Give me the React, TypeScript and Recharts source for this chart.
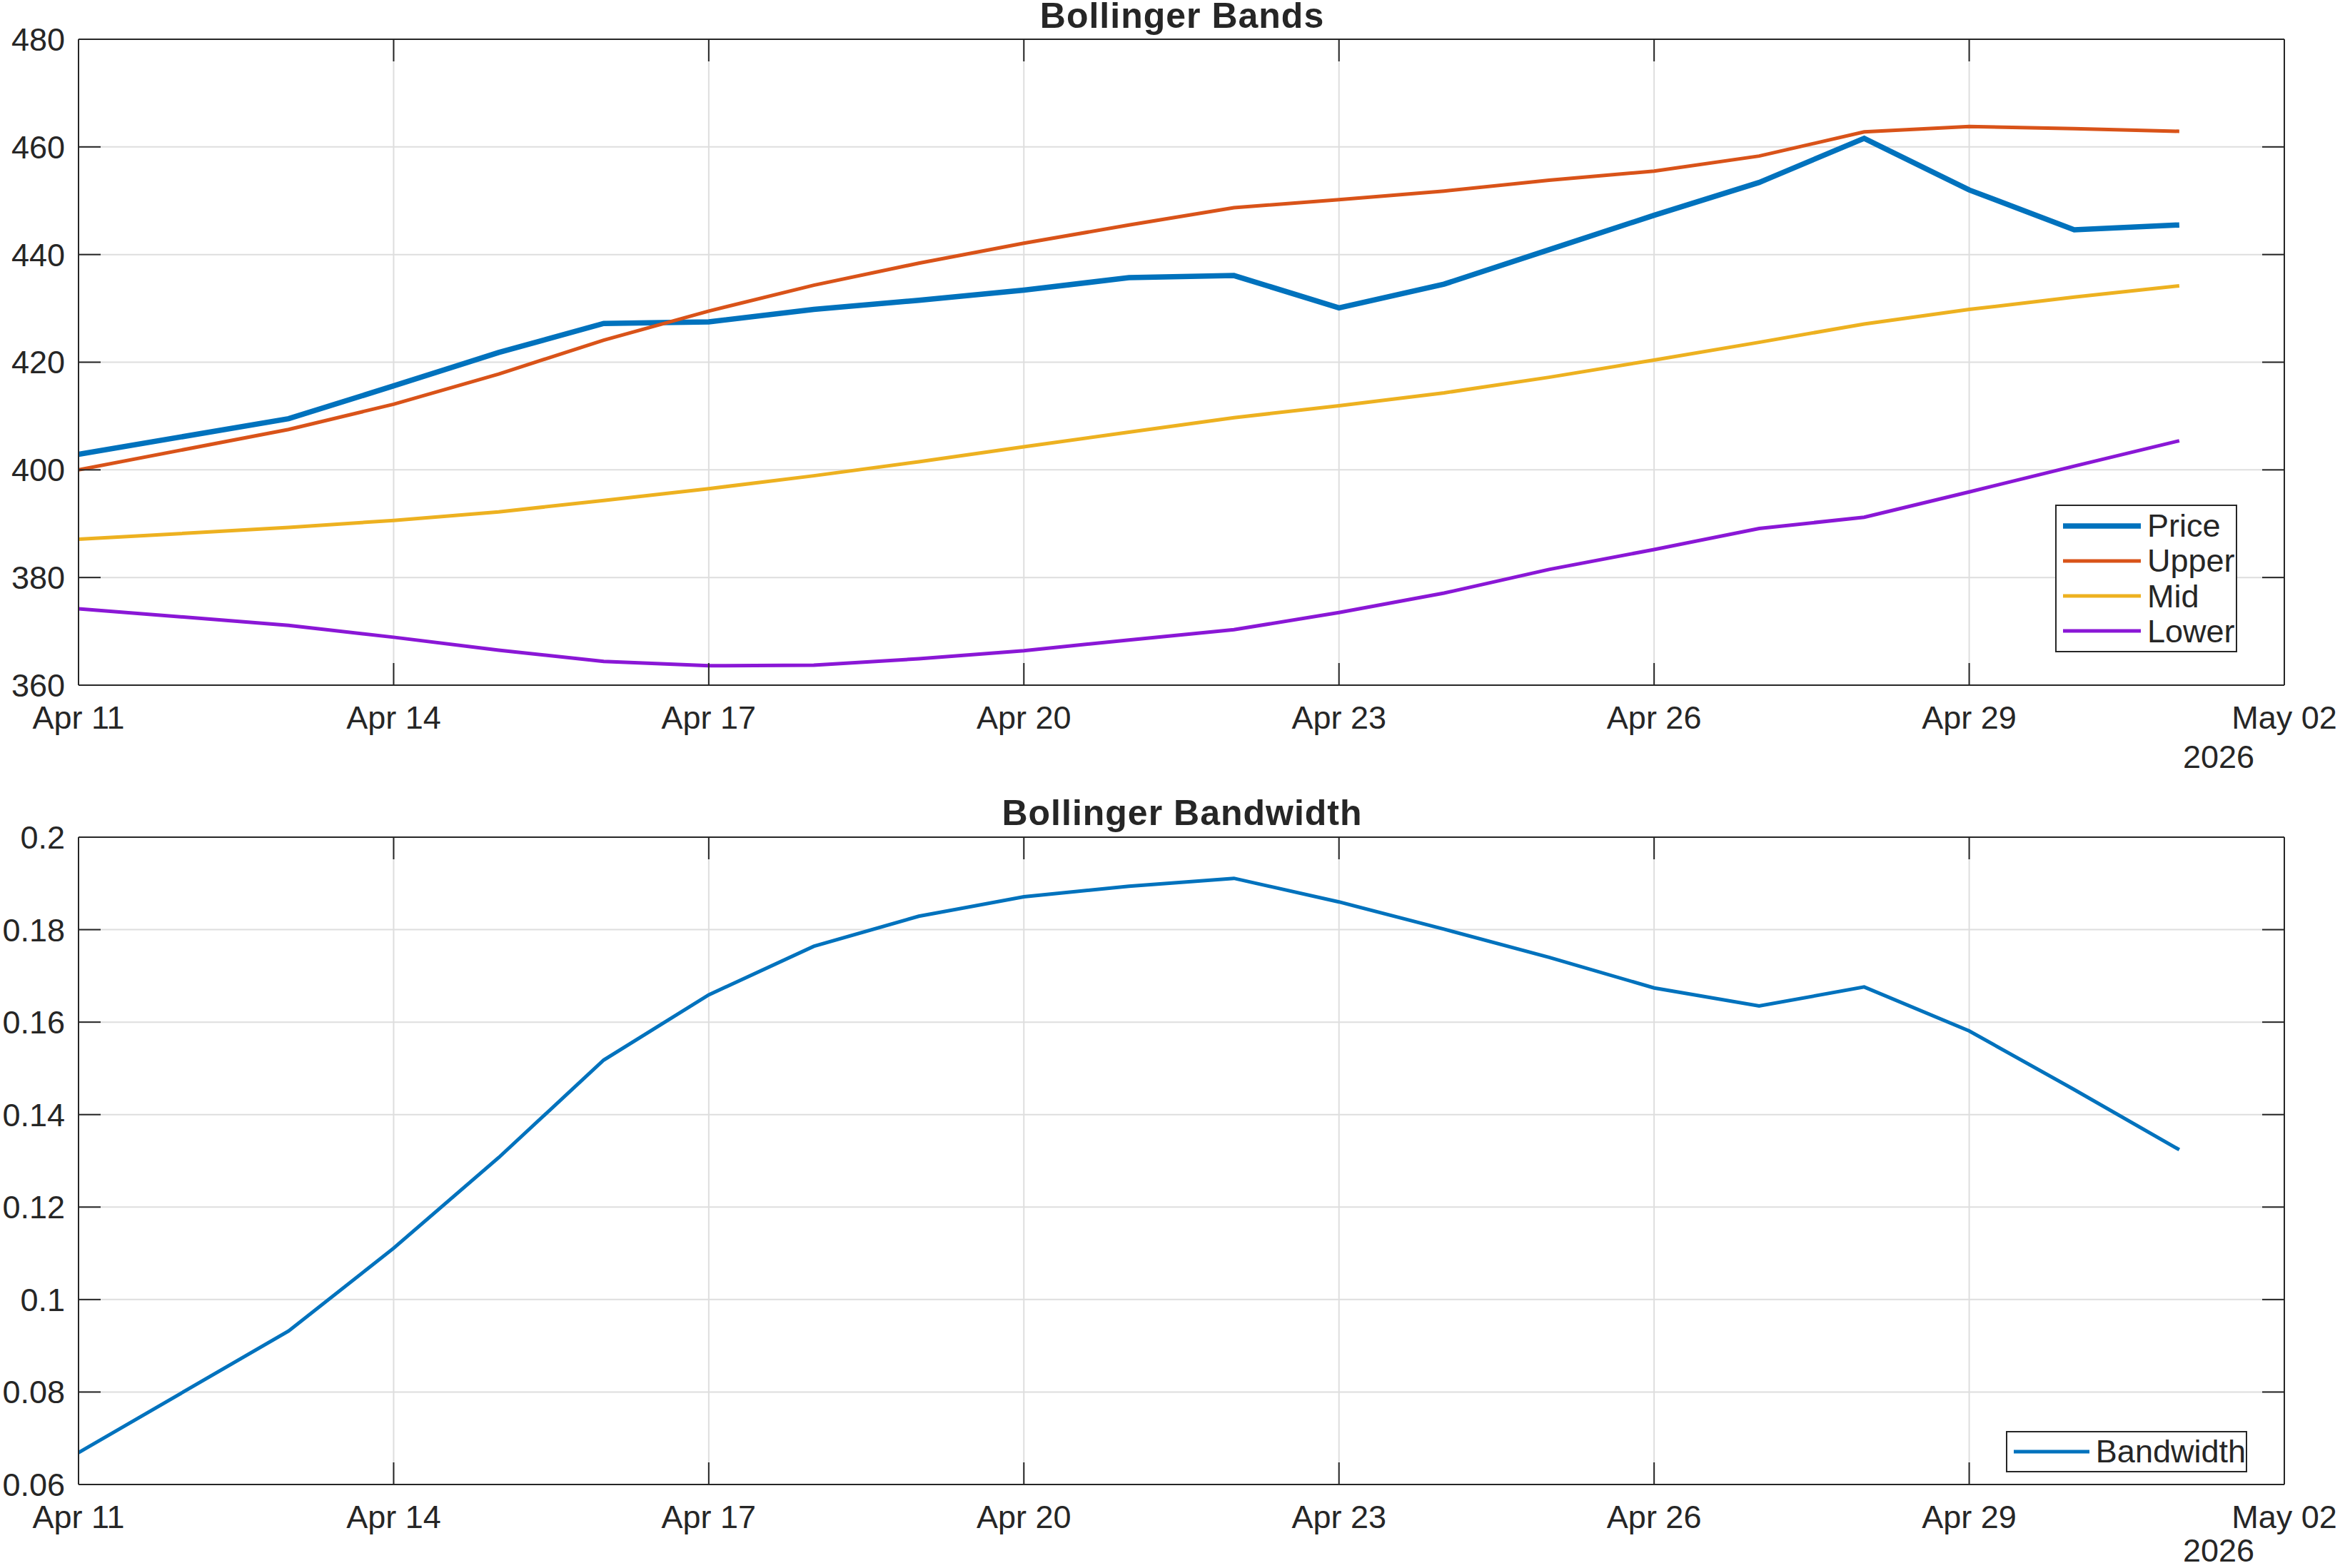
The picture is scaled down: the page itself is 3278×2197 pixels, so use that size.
import React from 'react';
import { LineChart, Line, XAxis, YAxis, CartesianGrid, Legend } from 'recharts';

// Trading days, counted from Apr 11, 2026
const dayIndex = [0, 2, 3, 4, 5, 6, 7, 8, 9, 10, 11, 12, 13, 14, 15, 16, 17, 18, 19, 20];

const price = [402.9, 409.5, 415.6, 421.8, 427.2, 427.5, 429.8, 431.5, 433.4, 435.7, 436.1, 430.1, 434.5, 440.9, 447.3, 453.4, 461.6, 452.0, 444.6, 445.5];
const upper = [400.0, 407.5, 412.2, 417.8, 424.1, 429.5, 434.3, 438.4, 442.1, 445.5, 448.7, 450.2, 451.8, 453.8, 455.5, 458.3, 462.8, 463.8, 463.4, 462.9];
const mid = [387.1, 389.3, 390.6, 392.2, 394.3, 396.5, 398.9, 401.5, 404.3, 407.0, 409.7, 411.9, 414.3, 417.2, 420.4, 423.7, 427.1, 429.8, 432.1, 434.2];
const lower = [374.2, 371.1, 368.9, 366.5, 364.4, 363.6, 363.7, 364.9, 366.4, 368.4, 370.3, 373.5, 377.1, 381.5, 385.2, 389.1, 391.2, 395.9, 400.7, 405.4];
const bandwidth = [0.0669, 0.0932, 0.1111, 0.1307, 0.1518, 0.1659, 0.1764, 0.1829, 0.1871, 0.1894, 0.1911, 0.1860, 0.1801, 0.1740, 0.1674, 0.1635, 0.1676, 0.1581, 0.1454, 0.1324];

const xTicks = [0, 3, 6, 9, 12, 15, 18, 21];
const xTickLabels = ['Apr 11', 'Apr 14', 'Apr 17', 'Apr 20', 'Apr 23', 'Apr 26', 'Apr 29', 'May 02'];
const priceTicks = [360, 380, 400, 420, 440, 460, 480];
const bwTicks = [0.06, 0.08, 0.1, 0.12, 0.14, 0.16, 0.18, 0.2];
const yearLabel = '2026';

const bandRows = dayIndex.map((d, i) => ({
  day: d,
  price: price[i],
  upper: upper[i],
  mid: mid[i],
  lower: lower[i],
}));
const bwRows = dayIndex.map((d, i) => ({ day: d, bandwidth: bandwidth[i] }));

const bandSeries = [
  { key: 'price', name: 'Price', color: '#0072BD', width: 7.5 },
  { key: 'upper', name: 'Upper', color: '#D95319', width: 5 },
  { key: 'mid', name: 'Mid', color: '#EDB120', width: 5 },
  { key: 'lower', name: 'Lower', color: '#8A17D6', width: 5 },
];
const bwSeries = [{ key: 'bandwidth', name: 'Bandwidth', color: '#0072BD', width: 5 }];

const FONT = '"Liberation Sans", Arial, Helvetica, sans-serif';
const INK = '#262626';
const FS = 45;
const W = 3278;

const tickStyle = { fill: INK, fontSize: FS, fontFamily: FONT };
const lineStyle = { stroke: INK, strokeWidth: 2 };

const fmtX = (v: number) => xTickLabels[xTicks.indexOf(v)] ?? '';
const fmtBw = (v: number) => String(Number(v.toFixed(2)));

// Box-side axes carry tick marks only, no labels
const NoLabel = () => <g />;

type SeriesDef = { key: string; name: string; color: string; width: number };

const LegendBox = ({ series, rowH, swatch }: { series: SeriesDef[]; rowH: number; swatch: number }) => (
  <div
    style={{
      border: `2px solid ${INK}`,
      background: '#fff',
      boxSizing: 'border-box',
      width: '100%',
      height: '100%',
      display: 'flex',
      flexDirection: 'column',
      justifyContent: 'center',
      paddingLeft: 9,
    }}
  >
    {series.map((s) => (
      <div key={s.key} style={{ display: 'flex', alignItems: 'center', height: rowH }}>
        <svg width={swatch} height={12} style={{ display: 'block' }}>
          <line x1={0} x2={swatch} y1={6} y2={6} stroke={s.color} strokeWidth={s.width} />
        </svg>
        <span
          style={{
            marginLeft: 9,
            fontFamily: FONT,
            fontSize: FS,
            color: INK,
            lineHeight: `${rowH}px`,
            whiteSpace: 'nowrap',
          }}
        >
          {s.name}
        </span>
      </div>
    ))}
  </div>
);

type PanelProps = {
  rows: any[];
  series: SeriesDef[];
  height: number;
  plotTop: number;
  plotBottom: number;
  yDomain: [number, number];
  yTicks: number[];
  yFmt?: (v: number) => string;
  legendBox: { left: number; top: number; width: number; height: number };
  legendRowH: number;
};

const Panel = ({ rows, series, height, plotTop, plotBottom, yDomain, yTicks, yFmt, legendBox, legendRowH }: PanelProps) => (
  <LineChart
    width={W}
    height={height}
    data={rows}
    margin={{ top: plotTop - 20, right: W - 3200 - 20, bottom: height - plotBottom - 60, left: 0 }}
  >
    <CartesianGrid stroke="#dedede" strokeWidth={2} xAxisId={0} yAxisId={0} />
    <XAxis
      xAxisId={0}
      dataKey="day"
      type="number"
      domain={[0, 21]}
      ticks={xTicks}
      interval={0}
      allowDataOverflow
      tickFormatter={fmtX}
      height={60}
      tickSize={-31}
      tickMargin={60}
      tick={tickStyle}
      tickLine={lineStyle}
      axisLine={lineStyle}
    />
    <XAxis
      xAxisId="top"
      orientation="top"
      dataKey="day"
      type="number"
      domain={[0, 21]}
      ticks={xTicks}
      interval={0}
      allowDataOverflow
      height={20}
      tickSize={-31}
      tick={NoLabel}
      tickLine={lineStyle}
      axisLine={lineStyle}
    />
    <YAxis
      yAxisId={0}
      type="number"
      domain={yDomain}
      ticks={yTicks}
      interval={0}
      allowDataOverflow
      tickFormatter={yFmt}
      width={110}
      tickSize={-31}
      tickMargin={50}
      tick={tickStyle}
      tickLine={lineStyle}
      axisLine={lineStyle}
    />
    <YAxis
      yAxisId="right"
      orientation="right"
      type="number"
      domain={yDomain}
      ticks={yTicks}
      interval={0}
      allowDataOverflow
      width={20}
      tickSize={-31}
      tick={NoLabel}
      tickLine={lineStyle}
      axisLine={lineStyle}
    />
    {series.map((s) => (
      <Line
        key={s.key}
        xAxisId={0}
        yAxisId={0}
        type="linear"
        dataKey={s.key}
        name={s.name}
        stroke={s.color}
        strokeWidth={s.width}
        strokeLinejoin="miter"
        dot={false}
        activeDot={false}
        isAnimationActive={false}
      />
    ))}
    <Legend
      layout="vertical"
      align="center"
      verticalAlign="middle"
      wrapperStyle={{ ...legendBox, position: 'absolute', margin: 0 }}
      content={() => <LegendBox series={series} rowH={legendRowH} swatch={109} />}
    />
  </LineChart>
);

export default function App() {
  const topH = 1100;
  const botH = 1097;
  return (
    <div style={{ position: 'absolute', left: 0, top: 0, width: W, height: 2197, background: '#fff' }}>
      <div style={{ position: 'absolute', left: 0, top: 0 }}>
        <Panel
          rows={bandRows}
          series={bandSeries}
          height={topH}
          plotTop={55}
          plotBottom={960}
          yDomain={[360, 480]}
          yTicks={priceTicks}
          legendBox={{ left: 2879, top: 707, width: 255, height: 207 }}
          legendRowH={49.3}
        />
      </div>
      <div style={{ position: 'absolute', left: 0, top: topH }}>
        <Panel
          rows={bwRows}
          series={bwSeries}
          height={botH}
          plotTop={73}
          plotBottom={980}
          yDomain={[0.06, 0.2]}
          yTicks={bwTicks}
          yFmt={fmtBw}
          legendBox={{ left: 2810, top: 905, width: 338, height: 58 }}
          legendRowH={52}
        />
      </div>
      <svg
        width={W}
        height={2197}
        style={{ position: 'absolute', left: 0, top: 0, pointerEvents: 'none' }}
      >
        <g fontFamily={FONT} fill={INK}>
          <text x={1656} y={39} textAnchor="middle" fontSize={50} fontWeight="bold" letterSpacing={1}>
            Bollinger Bands
          </text>
          <text x={1656} y={1156} textAnchor="middle" fontSize={50} fontWeight="bold" letterSpacing={1}>
            Bollinger Bandwidth
          </text>
          <text x={3108} y={1076} textAnchor="middle" fontSize={FS}>
            {yearLabel}
          </text>
          <text x={3108} y={2188} textAnchor="middle" fontSize={FS}>
            {yearLabel}
          </text>
        </g>
      </svg>
    </div>
  );
}
